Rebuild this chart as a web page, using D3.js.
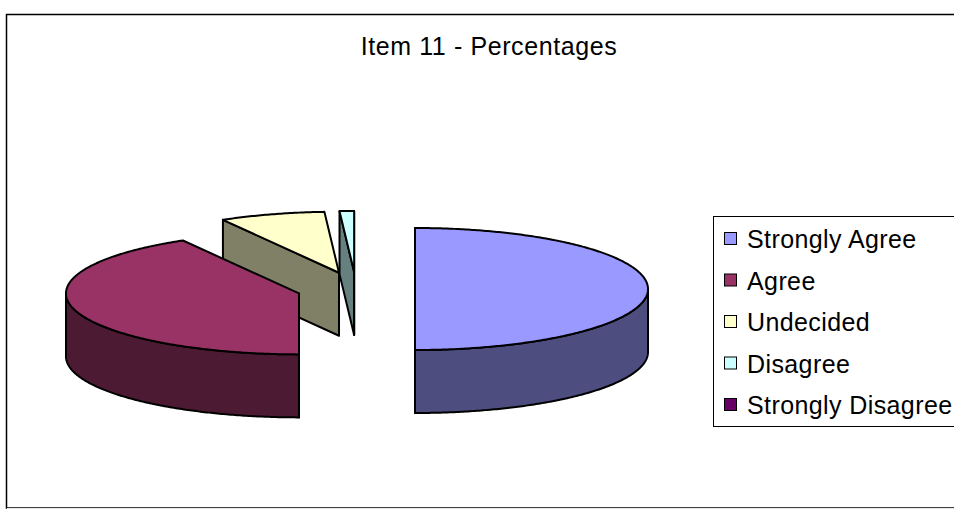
<!DOCTYPE html>
<html>
<head>
<meta charset="utf-8">
<script src="https://cdn.jsdelivr.net/npm/d3@7/dist/d3.min.js"></script>
<style>
  html, body { margin: 0; padding: 0; background: #fff; }
  svg { display: block; }
  text { font-family: "Liberation Sans", Arial, Helvetica, sans-serif; fill: #000; }
</style>
</head>
<body>
<svg id="chart" width="954" height="509"></svg>
<script>
// Responses to item 11, in percent
const categories = ["Strongly Agree", "Agree", "Undecided", "Disagree", "Strongly Disagree"];
const percentages = [50.0, 41.7, 7.3, 1.0, 0.0];
const topColors = ["#9999FF", "#993366", "#FFFFCC", "#CCFFFF", "#660066"];
const sideColors = ["#4D4D80", "#4D1A33", "#808066", "#668080", "#330033"];
const titleText = "Item 11 - Percentages";

const W = 954, H = 509;
const svg = d3.select("#chart");

// Chart area frame (runs off the right edge)
svg.append("rect")
  .attr("x", 6.5).attr("y", 14.5)
  .attr("width", 1000).attr("height", 493.5)
  .attr("fill", "#fff").attr("stroke", "#000").attr("stroke-width", 1.5);
svg.append("line")
  .attr("x1", 7).attr("x2", W).attr("y1", 508.5).attr("y2", 508.5)
  .attr("stroke", "#e8e8e8").attr("stroke-width", 1);

svg.append("text")
  .attr("x", 489).attr("y", 55)
  .attr("text-anchor", "middle")
  .style("font-size", "25px")
  .style("letter-spacing", "0.6px")
  .text(titleText);

// 3D pie geometry: elliptical top face, extruded downward
const cx = 356, cy = 289, rx = 233, ry = 61, depth = 63;
const explodeX = 59, explodeY = 17;

const pie = d3.pie().sort(null).startAngle(0).endAngle(2 * Math.PI);
const arcs = pie(percentages).map((a, i) => {
  const mid = (a.startAngle + a.endAngle) / 2;
  return Object.assign({}, a, {
    index: i,
    mid,
    ox: cx + explodeX * Math.sin(mid),
    oy: cy - explodeY * Math.cos(mid)
  });
}).filter(a => a.value > 0);

const proj = (a, t, down) => [a.ox + rx * Math.sin(t), a.oy - ry * Math.cos(t) + (down ? depth : 0)];
const line = d3.line();

function arcPoints(a, t0, t1, down) {
  const n = Math.max(2, Math.ceil(Math.abs(t1 - t0) / 0.01));
  const pts = [];
  for (let k = 0; k <= n; k++) pts.push(proj(a, t0 + (t1 - t0) * k / n, down));
  return pts;
}

// Paint from the back of the pie to the front
arcs.sort((p, q) => Math.cos(q.mid) - Math.cos(p.mid));

const g = svg.append("g")
  .attr("stroke", "#000").attr("stroke-width", 2).attr("stroke-linejoin", "round");

arcs.forEach(a => {
  const s = g.append("g");
  const c0 = [a.ox, a.oy], c1 = [a.ox, a.oy + depth];

  // radial walls at the start and end angles, when they face the viewer
  const walls = [
    { t: a.startAngle, vis: Math.sin(a.startAngle) },
    { t: a.endAngle, vis: -Math.sin(a.endAngle) }
  ];
  walls.forEach(w => {
    if (w.vis <= 1e-6) {
      const pts = [c0, proj(a, w.t, false), proj(a, w.t, true), c1];
      s.append("path").attr("d", line(pts) + "Z").attr("fill", sideColors[a.index]);
    }
  });

  // outer rim over the front half of the ellipse
  const r0 = Math.max(a.startAngle, Math.PI / 2);
  const r1 = Math.min(a.endAngle, 3 * Math.PI / 2);
  if (r1 > r0) {
    const pts = arcPoints(a, r0, r1, false).concat(arcPoints(a, r1, r0, true));
    s.append("path").attr("d", line(pts) + "Z").attr("fill", sideColors[a.index]);
  }

  // top face
  const topPts = [c0].concat(arcPoints(a, a.startAngle, a.endAngle, false));
  s.append("path").attr("d", line(topPts) + "Z").attr("fill", topColors[a.index]);
});

// Legend (box runs off the right edge)
const legend = svg.append("g");
legend.append("rect")
  .attr("x", 713.5).attr("y", 216.5)
  .attr("width", 300).attr("height", 210)
  .attr("fill", "#fff").attr("stroke", "#000").attr("stroke-width", 1);

const rowY = d3.scaleLinear().domain([0, categories.length - 1]).range([239, 405]);
categories.forEach((c, i) => {
  const y = rowY(i);
  legend.append("rect")
    .attr("x", 724.5).attr("y", y - 6.5)
    .attr("width", 12).attr("height", 12)
    .attr("fill", topColors[i]).attr("stroke", "#000").attr("stroke-width", 1);
  legend.append("text")
    .attr("x", 747).attr("y", y + 9)
    .style("font-size", "25px")
    .style("letter-spacing", "0.4px")
    .text(c);
});
</script>
</body>
</html>
